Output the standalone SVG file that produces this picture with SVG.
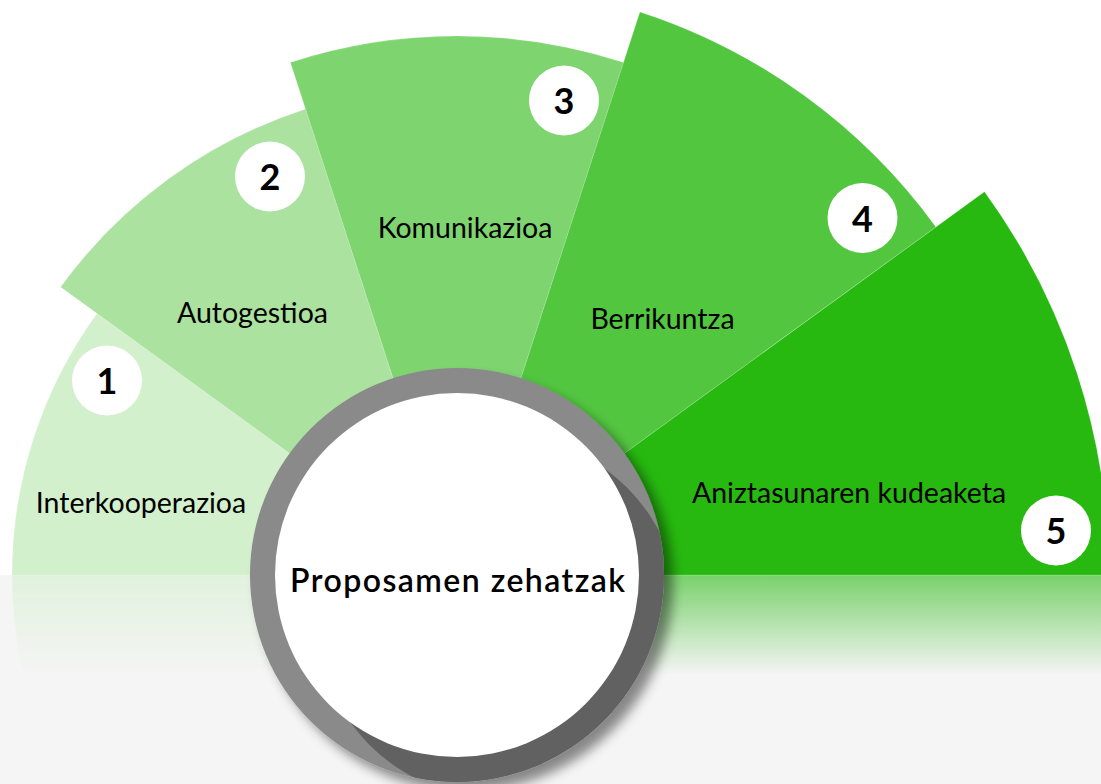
<svg xmlns="http://www.w3.org/2000/svg" xmlns:xlink="http://www.w3.org/1999/xlink" width="1101" height="784" viewBox="0 0 1101 784">
  <style>
    .sec { stroke: #ffffff; stroke-opacity: 0.15; stroke-width: 1; }
    .badge { fill: #ffffff; }
    .num { font-family: Lato, "Open Sans", "Liberation Sans", sans-serif; font-size: 36px; font-weight: 700; fill: #000000; text-anchor: middle; }
    .lbl { font-family: Lato, "Open Sans", "Liberation Sans", sans-serif; font-size: 28.5px; font-weight: 400; fill: #000000; text-anchor: middle; }
    .ctr { font-family: Lato, "Open Sans", "Liberation Sans", sans-serif; font-size: 32px; font-weight: 600; fill: #000000; text-anchor: middle; }
  </style>
  <defs>
    <linearGradient id="reflGrad" gradientUnits="userSpaceOnUse" x1="0" y1="575" x2="0" y2="675">
      <stop offset="0" stop-color="#ffffff" stop-opacity="0.6"/>
      <stop offset="1" stop-color="#ffffff" stop-opacity="0"/>
    </linearGradient>
    <mask id="reflMask" maskUnits="userSpaceOnUse" x="0" y="575" width="1101" height="209">
      <rect x="0" y="575" width="1101" height="209" fill="url(#reflGrad)"/>
    </mask>
    <clipPath id="ringClip">
      <circle cx="457" cy="575" r="207"/>
    </clipPath>
    <filter id="ringShadow" x="-20%" y="-20%" width="150%" height="150%">
      <feDropShadow dx="9" dy="9" stdDeviation="6" flood-color="#000000" flood-opacity="0.45"/>
    </filter>
  </defs>

  <!-- background -->
  <rect x="0" y="0" width="1101" height="784" fill="#ffffff"/>
  <rect x="0" y="575" width="1101" height="209" fill="#f5f5f5"/>

  <!-- reflection of the fan -->
  <g id="reflection" mask="url(#reflMask)">
    <g transform="translate(0,1150) scale(1,-1)">
      <use xlink:href="#sector1"/>
      <use xlink:href="#sector2"/>
      <use xlink:href="#sector3"/>
      <use xlink:href="#sector4"/>
      <use xlink:href="#sector5"/>
    </g>
  </g>

  <g id="node-1">
    <path id="sector1" class="sec" fill="#d3f0cd" d="M457,575 L12,575 A445,445 0 0 1 97,313.4 Z"/>
  </g>
  <g id="node-2">
    <path id="sector2" class="sec" fill="#abe2a0" d="M457,575 L60.6,287 A490,490 0 0 1 305.6,109 Z"/>
  </g>
  <g id="node-3">
    <path id="sector3" class="sec" fill="#7ed570" d="M457,575 L290.4,62.4 A539,539 0 0 1 623.6,62.4 Z"/>
  </g>
  <g id="node-4">
    <path id="sector4" class="sec" fill="#53c640" d="M457,575 L639.9,12 A592,592 0 0 1 935.9,227 Z"/>
  </g>
  <g id="node-5">
    <path id="sector5" class="sec" fill="#27b910" d="M457,575 L984.5,191.8 A652,652 0 0 1 1109,575 Z"/>
  </g>

  <g id="badges">
    <g id="badge-1"><circle class="badge" cx="107" cy="380.5" r="35"/><text class="num" x="107" y="394">1</text></g>
    <g id="badge-2"><circle class="badge" cx="270" cy="176.5" r="35"/><text class="num" x="270" y="190">2</text></g>
    <g id="badge-3"><circle class="badge" cx="564" cy="100.5" r="35"/><text class="num" x="564" y="114">3</text></g>
    <g id="badge-4"><circle class="badge" cx="862.5" cy="218" r="35"/><text class="num" x="862.5" y="231.5">4</text></g>
    <g id="badge-5"><circle class="badge" cx="1056" cy="530.5" r="35"/><text class="num" x="1056" y="544">5</text></g>
  </g>

  <g id="labels">
    <text class="lbl" x="141" y="513">Interkooperazioa</text>
    <text class="lbl" x="252.5" y="323">Autogestioa</text>
    <text class="lbl" x="465" y="238">Komunikazioa</text>
    <text class="lbl" x="662.5" y="329">Berrikuntza</text>
    <text class="lbl" x="849" y="503">Aniztasunaren kudeaketa</text>
  </g>

  <g id="connectors"></g>

  <g id="node-center">
    <circle cx="457" cy="575" r="207" fill="#8a8a8a" filter="url(#ringShadow)"/>
    <circle cx="498.5" cy="616.5" r="182" fill="#616161" clip-path="url(#ringClip)"/>
    <circle cx="457" cy="575" r="182" fill="#ffffff"/>
    <text class="ctr" x="457.5" y="592" textLength="335" lengthAdjust="spacing">Proposamen zehatzak</text>
  </g>
</svg>
